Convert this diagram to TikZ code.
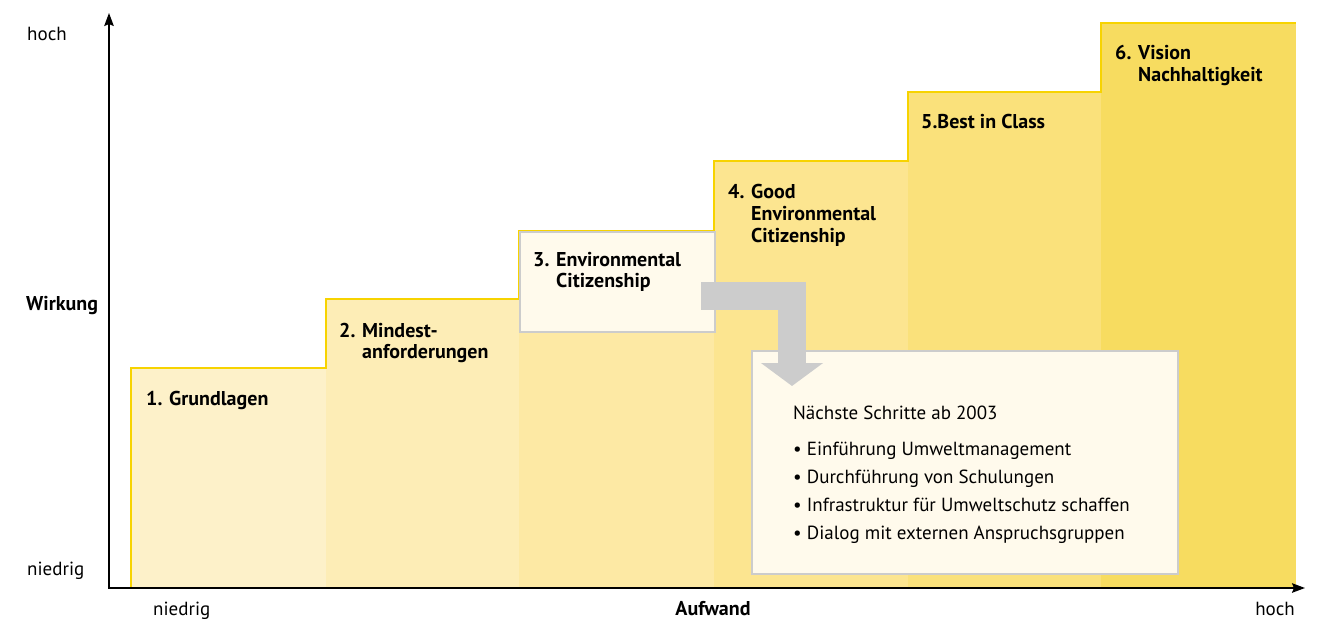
\documentclass[tikz,border=0pt]{standalone}
\usepackage{fontspec}
\setmainfont{PT Sans}
\usepackage{tikz}
\usetikzlibrary{arrows.meta,calc}

\definecolor{stepA}{HTML}{FDF1C9}
\definecolor{stepB}{HTML}{FDEDB6}
\definecolor{stepC}{HTML}{FDE9A4}
\definecolor{stepD}{HTML}{FCE590}
\definecolor{stepE}{HTML}{FAE17B}
\definecolor{stepF}{HTML}{F7DC60}
\definecolor{stepline}{HTML}{F7D300}
\definecolor{boxfill}{HTML}{FFFAEC}
\definecolor{boxline}{HTML}{CCCCCC}
\definecolor{arrowgrey}{HTML}{CCCCCC}

% number in front, wrapped lines indented under the text
\newcommand{\stepnum}[2]{\begin{tabular}[t]{@{}l@{ }l@{}}#1 & #2\end{tabular}}

\begin{document}
\begin{tikzpicture}[x=1pt, y=-1pt,
  font=\fontsize{19}{21.6}\selectfont,
  boldtext/.style={font=\fontsize{20}{21.6}\selectfont\bfseries},
  steplabel/.style={boldtext, anchor=base west, inner sep=0pt},
  axislabel/.style={inner sep=0pt},
  axis/.style={line width=1.7pt, {Stealth[length=13pt,width=9.5pt,inset=2pt]}-{Stealth[length=13pt,width=9.5pt,inset=2pt]}},
  outline/.style={draw=stepline, line width=2.6pt},
  greybox/.style={draw=boxline, line width=2pt, fill=boxfill, inner sep=0pt},
  bigarrow/.style={draw=arrowgrey, line width=28pt, -{Triangle[length=23pt,width=61pt]}}]
\useasboundingbox (0,0) rectangle (1319,620);

% staircase
\foreach \xa/\xb/\yt/\c in {131/326/368/stepA,326/519/299/stepB,519/714/231/stepC,714/908/161/stepD,908/1101/92/stepE,1101/1296/23/stepF}
  \fill[\c] (\xa,\yt) rectangle (\xb,588);
\draw[outline] (131,588) |- (326,368) |- (519,299) |- (714,231) |- (908,161) |- (1101,92) |- (1296,23);

% step 3 is highlighted
\node[greybox, minimum width=195pt, minimum height=100pt, anchor=north west] (env) at (519,231) {};
\node[steplabel] (s3) at (533,266) {\stepnum{3.}{Environmental\\ & Citizenship}};

\node[steplabel] (s1) at (146,405) {1. Grundlagen};
\node[steplabel] (s2) at (339,337) {\stepnum{2.}{Mindest-\\ & anforderungen}};
\node[steplabel] (s4) at (728,199) {\stepnum{4.}{Good\\ & Environmental\\ & Citizenship}};
\node[steplabel] (s5) at (921,129) {5.Best in Class};
\node[steplabel] (s6) at (1115,60) {\stepnum{6.}{Vision\\ & Nachhaltigkeit}};

% next steps
\node[greybox, minimum width=426pt, minimum height=223pt, anchor=north west] (next) at (751,350) {};
\coordinate (a0) at ($(env.east)+(-15,14)$);
\coordinate (a1) at ($(next.north west)+(41,36)$);
\draw[bigarrow] (a0) -| (a1);
\node[anchor=base west, inner sep=0pt, font=\fontsize{19}{28}\selectfont] (nexttext) at (793,419)
  {\begin{tabular}[t]{@{}l@{}}
   Nächste Schritte ab 2003\\[8pt]
   • Einführung Umweltmanagement\\
   • Durchführung von Schulungen\\
   • Infrastruktur für Umweltschutz schaffen\\
   • Dialog mit externen Anspruchsgruppen
   \end{tabular}};

% axes
\coordinate (O) at (109,588);
\coordinate (ytop) at (109,13);
\coordinate (xend) at (1305,588);
\draw[axis] (ytop) -- (O) -- (xend);
\node[axislabel, anchor=base west] (yhi) at (27,41) {hoch};
\node[axislabel, boldtext, anchor=base west] (ylab) at (26,310) {Wirkung};
\node[axislabel, anchor=base west] (ylo) at (27,575) {niedrig};
\node[axislabel, anchor=base west] (xlo) at (153,615) {niedrig};
\node[axislabel, boldtext, anchor=base] (xlab) at (713,615) {Aufwand};
\node[axislabel, anchor=base east] (xhi) at (1295,615) {hoch};
\end{tikzpicture}
\end{document}
